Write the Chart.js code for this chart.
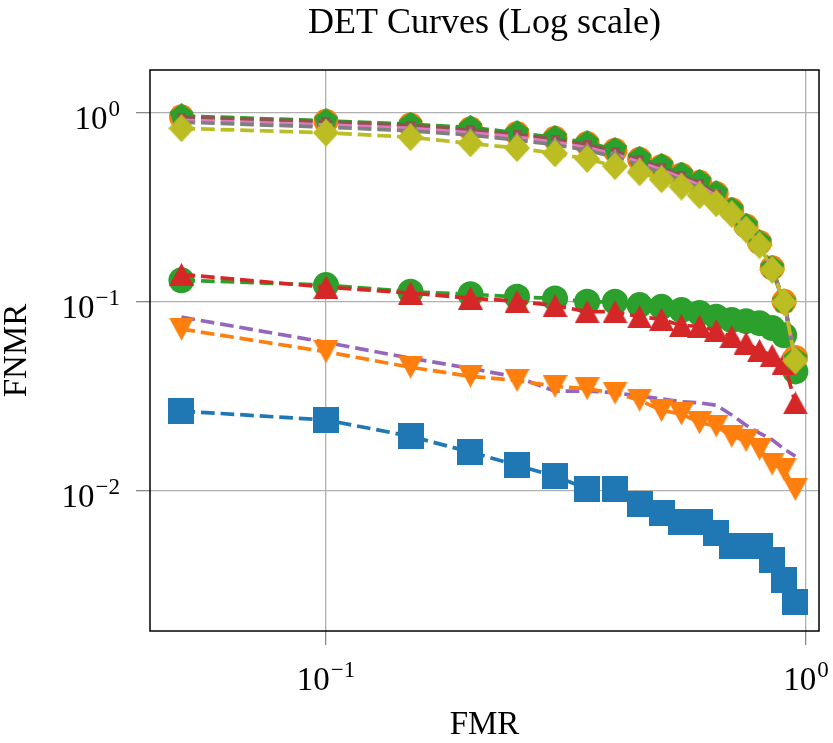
<!DOCTYPE html>
<html>
<head>
<meta charset="utf-8">
<title>DET Curves (Log scale)</title>
<script src="https://cdn.jsdelivr.net/npm/chart.js@4.4.1/dist/chart.umd.min.js"></script>
<style>
  html, body { margin: 0; padding: 0; background: #fff; }
</style>
</head>
<body>
<canvas id="detChart" width="833" height="743"></canvas>
<script>
// false match rate values (x) shared by every curve
const fmr = [0.05, 0.1, 0.15, 0.2, 0.25, 0.3, 0.35, 0.4, 0.45, 0.5,
             0.55, 0.6, 0.65, 0.7, 0.75, 0.8, 0.85, 0.9, 0.95];

// FNMR per curve
const blueSquares = [0.0265, 0.0238, 0.0195, 0.0161, 0.0137, 0.012, 0.0103, 0.0103, 0.0085, 0.0077,
                     0.0069, 0.0069, 0.006, 0.0051, 0.0051, 0.0051, 0.0043, 0.0034, 0.0026];
const orangeDown = [0.072, 0.0546, 0.0452, 0.0405, 0.0385, 0.0358, 0.0348, 0.033, 0.0303, 0.0267,
                    0.0256, 0.023, 0.0221, 0.0195, 0.0185, 0.0167, 0.0139, 0.013, 0.0102];
const greenCircles = [0.1306, 0.123, 0.1135, 0.11, 0.1067, 0.1045, 0.1004, 0.1004, 0.0964, 0.0944,
                      0.0907, 0.0875, 0.0836, 0.0803, 0.0793, 0.0774, 0.073, 0.0668, 0.043];
const redUp = [0.14, 0.12, 0.1117, 0.105, 0.101, 0.0959, 0.089, 0.089, 0.0836, 0.0811,
               0.0752, 0.0745, 0.0705, 0.0656, 0.0607, 0.0555, 0.0522, 0.0475, 0.0293];
const purpleLine = [0.0833, 0.0612, 0.0505, 0.0446, 0.0401, 0.0338, 0.0338, 0.0332, 0.0318, 0.0308,
                    0.0297, 0.0293, 0.0285, 0.0253, 0.0223, 0.0203, 0.0187, 0.0167, 0.0153];
const orangeCirclesTop = [0.955, 0.905, 0.865, 0.825, 0.78, 0.735, 0.69, 0.635, 0.57, 0.522,
                          0.47, 0.43, 0.375, 0.308, 0.253, 0.207, 0.152, 0.101, 0.051];
const greenPentagons = [0.967, 0.91, 0.873, 0.84, 0.787, 0.743, 0.697, 0.642, 0.576, 0.529,
                        0.476, 0.435, 0.379, 0.31, 0.255, 0.208, 0.152, 0.1, 0.05];
const brownTop = [0.952, 0.9, 0.86, 0.815, 0.77, 0.725, 0.68, 0.625, 0.565, 0.515,
                  0.465, 0.425, 0.37, 0.305, 0.25, 0.205, 0.15, 0.1, 0.05];
const pinkTop = [0.915, 0.865, 0.83, 0.785, 0.745, 0.7, 0.655, 0.605, 0.55, 0.5,
                 0.455, 0.415, 0.362, 0.3, 0.247, 0.203, 0.149, 0.099, 0.049];
const grayTop = [0.896, 0.843, 0.805, 0.765, 0.72, 0.68, 0.635, 0.585, 0.53, 0.485,
                 0.44, 0.4, 0.352, 0.296, 0.244, 0.2, 0.147, 0.098, 0.048];
const oliveDiamonds = [0.83, 0.787, 0.745, 0.691, 0.653, 0.612, 0.572, 0.524, 0.486, 0.446,
                       0.408, 0.367, 0.333, 0.292, 0.242, 0.2, 0.148, 0.1, 0.049];

// decade ticks and their exponents
const xTicks = [0.1, 1];
const xTickExp = ["\u22121", "0"];
const yTicks = [1, 0.1, 0.01];
const yTickExp = ["0", "\u22121", "\u22122"];

const SERIF = '"Liberation Serif", "Times New Roman", serif';

// matplotlib-like marker shapes as small canvases
function marker(shape, w, h, color) {
  const c = document.createElement("canvas");
  c.width = Math.ceil(w);
  c.height = Math.ceil(h);
  const g = c.getContext("2d");
  g.fillStyle = color;
  g.beginPath();
  if (shape === "square") {
    g.rect(0, 0, w, h);
  } else if (shape === "up") {
    g.moveTo(w / 2, 0); g.lineTo(w, h); g.lineTo(0, h);
  } else if (shape === "down") {
    g.moveTo(0, 0); g.lineTo(w, 0); g.lineTo(w / 2, h);
  } else if (shape === "diamond") {
    g.moveTo(w / 2, 0); g.lineTo(w, h / 2); g.lineTo(w / 2, h); g.lineTo(0, h / 2);
  } else if (shape === "pentagon") {
    const r = w / 2;
    for (let k = 0; k < 5; k++) {
      const a = -Math.PI / 2 + k * 2 * Math.PI / 5;
      const px = r + r * Math.cos(a), py = r + r * Math.sin(a);
      if (k === 0) g.moveTo(px, py); else g.lineTo(px, py);
    }
  }
  g.closePath();
  g.fill();
  return c;
}

function curve(values, color, style, radius, order) {
  return {
    data: fmr.map((x, i) => ({ x: x, y: values[i] })),
    borderColor: color,
    backgroundColor: color,
    borderWidth: 3.7,
    borderDash: [13.7, 5.9],
    pointStyle: style,
    pointRadius: radius,
    pointBackgroundColor: color,
    pointBorderWidth: 0,
    tension: 0,
    fill: false,
    order: order
  };
}

const datasets = [
  curve(blueSquares, "#1f77b4", marker("square", 26, 26, "#1f77b4"), 13, 11),
  curve(purpleLine, "#9467bd", "circle", 0, 10),
  curve(orangeDown, "#ff7f0e", marker("down", 25, 23, "#ff7f0e"), 12.5, 9),
  curve(greenCircles, "#2ca02c", "circle", 13, 8),
  curve(redUp, "#d62728", marker("up", 25, 23, "#d62728"), 12.5, 7),
  curve(orangeCirclesTop, "#ff7f0e", "circle", 12.5, 6),
  curve(greenPentagons, "#2ca02c", marker("pentagon", 25, 25, "#2ca02c"), 12.5, 5),
  curve(brownTop, "#8c564b", marker("square", 9, 9, "#8c564b"), 4.5, 4),
  curve(pinkTop, "#e377c2", marker("up", 12, 11, "#e377c2"), 6, 3),
  curve(grayTop, "#7f7f7f", "circle", 5.5, 2),
  curve(oliveDiamonds, "#bcbd22", marker("diamond", 26, 28, "#bcbd22"), 14, 1)
];

function drawPower(ctx, exp, x, baseline, align) {
  ctx.font = "33px " + SERIF;
  const wBase = ctx.measureText("10").width;
  ctx.font = "23px " + SERIF;
  const wExp = ctx.measureText(exp).width;
  const total = wBase + 1 + wExp;
  const left = align === "center" ? x - total / 2 : x - total;
  ctx.font = "33px " + SERIF;
  ctx.fillText("10", left, baseline);
  ctx.font = "23px " + SERIF;
  ctx.fillText(exp, left + wBase + 1, baseline - 13);
}

// tick labels as 10 with a raised exponent
const powerLabels = {
  id: "powerLabels",
  afterDraw(chart) {
    const { ctx, chartArea, scales } = chart;
    ctx.save();
    ctx.fillStyle = "#000";
    ctx.textAlign = "left";
    ctx.textBaseline = "alphabetic";
    xTicks.forEach((v, i) => {
      drawPower(ctx, xTickExp[i], scales.x.getPixelForValue(v), chartArea.bottom + 59, "center");
    });
    yTicks.forEach((v, i) => {
      drawPower(ctx, yTickExp[i], chartArea.left - 30, scales.y.getPixelForValue(v) + 16, "right");
    });
    ctx.restore();
  }
};

// black box round the plot area
const frame = {
  id: "frame",
  afterDatasetsDraw(chart) {
    const { ctx, chartArea } = chart;
    ctx.save();
    ctx.strokeStyle = "#000";
    ctx.lineWidth = 1.5;
    ctx.strokeRect(chartArea.left, chartArea.top,
                   chartArea.right - chartArea.left, chartArea.bottom - chartArea.top);
    ctx.restore();
  }
};

new Chart(document.getElementById("detChart"), {
  type: "line",
  data: { datasets: datasets },
  plugins: [powerLabels, frame],
  options: {
    responsive: false,
    animation: false,
    events: [],
    layout: { padding: { left: 0, right: 13, top: 0, bottom: 0 } },
    plugins: {
      legend: { display: false },
      tooltip: { enabled: false },
      title: {
        display: true,
        fullSize: false,
        text: "DET Curves (Log scale)",
        color: "#000",
        font: { family: SERIF, size: 36, weight: "normal", lineHeight: 1.2 },
        padding: { top: 2, bottom: 24.8 }
      }
    },
    scales: {
      x: {
        type: "logarithmic",
        min: 0.043,
        max: 1.064,
        afterBuildTicks: (s) => { s.ticks = xTicks.map((v) => ({ value: v })); },
        afterFit: (s) => { s.height = 112; },
        grid: { color: "#b0b0b0", lineWidth: 1.3, tickLength: 14, tickColor: "#888888" },
        border: { display: false },
        ticks: { display: false },
        title: {
          display: true,
          text: "FMR",
          color: "#000",
          font: { family: SERIF, size: 33, lineHeight: 1 },
          padding: { top: 0, bottom: 1.5 }
        }
      },
      y: {
        type: "logarithmic",
        min: 0.00182,
        max: 1.69,
        afterBuildTicks: (s) => { s.ticks = yTicks.map((v) => ({ value: v })); },
        afterFit: (s) => { s.width = 150; },
        grid: { color: "#b0b0b0", lineWidth: 1.3, tickLength: 14, tickColor: "#888888" },
        border: { display: false },
        ticks: { display: false },
        title: {
          display: true,
          text: "FNMR",
          color: "#000",
          font: { family: SERIF, size: 33, lineHeight: 1 },
          padding: { top: 0.5, bottom: 0 }
        }
      }
    }
  }
});
</script>
</body>
</html>
